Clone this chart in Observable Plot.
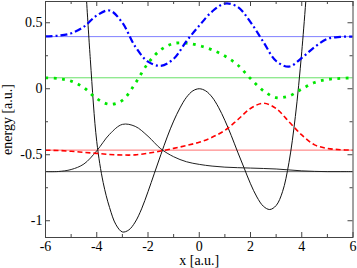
<!DOCTYPE html>
<html><head><meta charset="utf-8">
<script src="https://cdn.jsdelivr.net/npm/d3@7"></script>
<script src="https://cdn.jsdelivr.net/npm/@observablehq/plot@0.6"></script>
<style>html,body{margin:0;padding:0;background:#fff} svg{display:block}</style>
</head><body><div id="chart"></div>
<script>
// potential curve
const potX = [-4.5,-4.25,-4,-3.75,-3.5,-3.25,-3,-2.75,-2.5,-2.25,-2,-1.75,-1.5,-1.25,-1,-0.75,-0.5,-0.25,0,0.25,0.5,0.75,1,1.25,1.5,1.75,2,2.25,2.5,2.75,3,3.25,3.5,3.75,4,4.25];
const potV = [1.0,0.22,-0.40,-0.71,-0.90,-1.03,-1.085,-1.07,-1.01,-0.91,-0.78,-0.64,-0.50,-0.365,-0.245,-0.145,-0.065,-0.016,0,-0.016,-0.063,-0.14,-0.24,-0.355,-0.48,-0.60,-0.72,-0.82,-0.89,-0.915,-0.885,-0.78,-0.56,-0.21,0.28,0.9];
// wavefunctions (offset by their energies)
const waveX = [-6,-5.5,-5,-4.5,-4,-3.5,-3,-2.5,-2,-1.5,-1,-0.5,0,0.5,1,1.5,2,2.5,3,3.5,4,4.5,5,5.5,6];
const psi0 = [-0.628,-0.627,-0.612,-0.57,-0.47,-0.345,-0.27,-0.285,-0.36,-0.455,-0.515,-0.553,-0.573,-0.586,-0.594,-0.598,-0.601,-0.604,-0.608,-0.615,-0.622,-0.626,-0.628,-0.628,-0.628];
const psi1 = [-0.466,-0.468,-0.474,-0.482,-0.49,-0.498,-0.502,-0.501,-0.488,-0.472,-0.452,-0.43,-0.405,-0.368,-0.315,-0.235,-0.15,-0.11,-0.15,-0.25,-0.35,-0.425,-0.452,-0.462,-0.465];
const psi2 = [0.083,0.077,0.058,0.008,-0.075,-0.118,-0.088,0.04,0.193,0.295,0.343,0.345,0.327,0.295,0.248,0.18,0.077,-0.015,-0.067,-0.055,-0.002,0.047,0.07,0.078,0.083];
const psi3 = [0.397,0.402,0.42,0.47,0.555,0.593,0.50,0.32,0.205,0.174,0.226,0.36,0.478,0.585,0.645,0.62,0.505,0.355,0.21,0.168,0.233,0.316,0.378,0.393,0.395];
// energy levels
const energies = [-0.628, -0.465, 0.083, 0.395];
const levelColors = ["#666666", "#ff7070", "#66e066", "#8080ff"];
// ticks
const xMajor = [-6,-4,-2,0,2,4,6];
const xMinor = [-5,-3,-1,1,3,5];
const yMajor = [-1,-0.5,0,0.5];
const yMinor = [-0.75,-0.25,0.25];

const W = 357, H = 268, mt = 1, mb = 31, ml = 45, mr = 4.5;
const ph = H - mt - mb, pw = W - ml - mr;
const font = "'Liberation Serif', 'Times New Roman', serif";
const frameColor = "#444";

const pot = potX.map((x, i) => ({x, y: potV[i]}));
const waves = [psi0, psi1, psi2, psi3].map(arr => waveX.map((x, i) => ({x, y: arr[i]})));
const waveStyles = [
  {stroke: "#222", strokeWidth: 1},
  {stroke: "#ff0000", strokeWidth: 1.6, strokeDasharray: "5,3", strokeLinecap: "butt"},
  {stroke: "#00e600", strokeWidth: 2.8, strokeDasharray: "2.8,5.5", strokeLinecap: "butt"},
  {stroke: "#0000ff", strokeWidth: 2.2, strokeDasharray: "7,3,2,3", strokeLinecap: "butt"}
];

const chart = Plot.plot({
  width: W, height: H,
  marginTop: mt, marginBottom: mb, marginLeft: ml, marginRight: mr,
  style: {fontFamily: font, fontSize: "14px", background: "#fff", color: "#000"},
  x: {domain: [-6, 6]},
  y: {domain: [-1.127, 0.661]},
  marks: [
    ...energies.map((e, i) => Plot.ruleY([e], {y: d => d, stroke: levelColors[i], strokeWidth: 1})),
    Plot.line(pot, {x: "x", y: "y", curve: "catmull-rom", stroke: "#111", strokeWidth: 1, clip: true}),
    ...waves.map((w, i) => Plot.line(w, {x: "x", y: "y", curve: "catmull-rom", clip: true, ...waveStyles[i]})),
    // inward ticks on all four sides
    Plot.ruleX(xMajor, {x: d => d, insetTop: ph - 5, stroke: frameColor}),
    Plot.ruleX(xMinor, {x: d => d, insetTop: ph - 3, stroke: frameColor}),
    Plot.ruleX(xMajor, {x: d => d, insetBottom: ph - 5, stroke: frameColor}),
    Plot.ruleX(xMinor, {x: d => d, insetBottom: ph - 3, stroke: frameColor}),
    Plot.ruleY(yMajor, {y: d => d, insetRight: pw - 5, stroke: frameColor}),
    Plot.ruleY(yMinor, {y: d => d, insetRight: pw - 3, stroke: frameColor}),
    Plot.ruleY(yMajor, {y: d => d, insetLeft: pw - 5, stroke: frameColor}),
    Plot.ruleY(yMinor, {y: d => d, insetLeft: pw - 3, stroke: frameColor}),
    Plot.frame({stroke: frameColor, strokeWidth: 1}),
    Plot.axisX({ticks: xMajor, tickSize: 0, tickPadding: 4, tickFormat: d => String(d), fontSize: 14,
      label: "x [a.u.]", labelAnchor: "center", labelArrow: "none", labelOffset: 27.5}),
    Plot.axisY({ticks: yMajor, tickSize: 0, tickPadding: 3, tickFormat: d => String(d), fontSize: 14,
      label: "energy [a.u.]", labelAnchor: "center", labelArrow: "none", labelOffset: 43})
  ]
});
document.getElementById("chart").appendChild(chart);
</script>
</body></html>
